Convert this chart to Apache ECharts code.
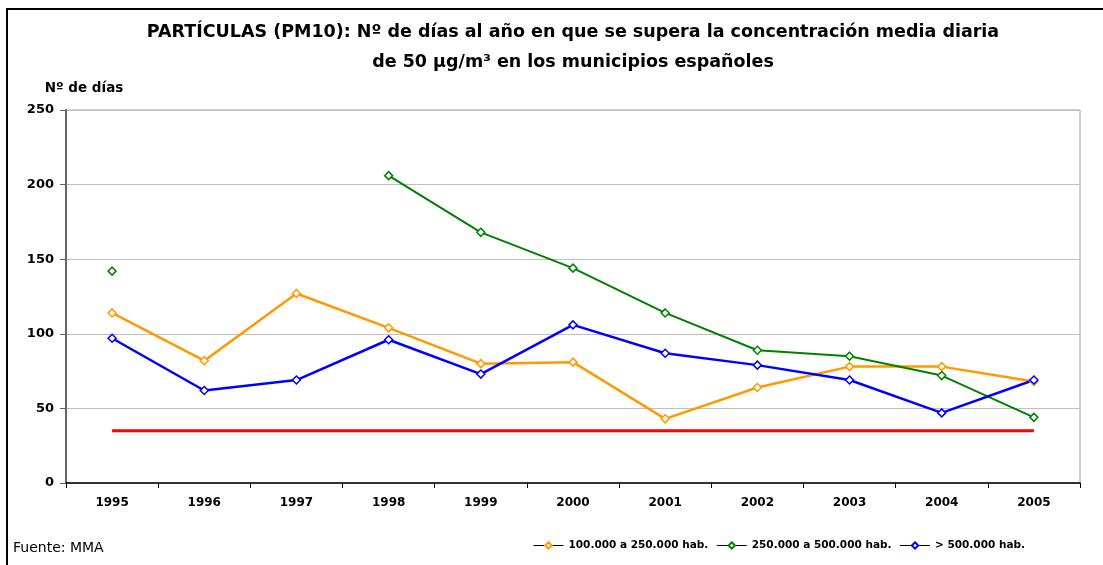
<!DOCTYPE html>
<html>
<head>
<meta charset="utf-8">
<script src="https://cdn.jsdelivr.net/npm/echarts@6/dist/echarts.min.js"></script>
<style>
  html, body { margin: 0; padding: 0; background: #fff; }
  #chart { width: 1103px; height: 565px; }
</style>
</head>
<body>
<div id="chart"></div>
<script>
// años
var years = ['1995', '1996', '1997', '1998', '1999', '2000', '2001', '2002', '2003', '2004', '2005'];
// nº de días por tamaño de municipio
var pob100a250 = [114, 82, 127, 104, 80, 81, 43, 64, 78, 78, 68];
var pob250a500 = [142, '-', '-', 206, 168, 144, 114, 89, 85, 72, 44];
var pobMas500 = [97, 62, 69, 96, 73, 106, 87, 79, 69, 47, 69];
// límite de 35 días
var limite = [35, 35, 35, 35, 35, 35, 35, 35, 35, 35, 35];
var yTicks = [0, 50, 100, 150, 200, 250];

var seriesNames = ['100.000 a 250.000 hab.', '250.000 a 500.000 hab.', '> 500.000 hab.'];
var FONT = '"DejaVu Sans", Arial, sans-serif';

var chart = echarts.init(document.getElementById('chart'));

function lineSerie(name, data, color, width) {
  return {
    name: name,
    type: 'line',
    data: data,
    symbol: 'diamond',
    symbolSize: 8,
    showAllSymbol: true,
    connectNulls: false,
    lineStyle: { color: color, width: width },
    itemStyle: { color: '#fff', borderColor: color, borderWidth: 1.5 },
    emphasis: { disabled: true },
    z: 3
  };
}

var option = {
  animation: false,
  backgroundColor: '#fff',
  graphic: [{
    type: 'rect',
    shape: { x: 7, y: 9, width: 1200, height: 700 },
    style: { fill: 'none', stroke: '#000', lineWidth: 2 },
    silent: true
  }, {
    type: 'text',
    left: 13,
    top: 541,
    style: { text: 'Fuente: MMA', font: '14px ' + FONT, fill: '#000' }
  }],
  title: {
    text: 'PARTÍCULAS (PM10): Nº de días al año en que se supera la concentración media diaria\nde 50 µg/m³ en los municipios españoles',
    left: 568,
    textAlign: 'center',
    top: 12,
    textStyle: {
      fontFamily: FONT,
      fontSize: 17.5,
      fontWeight: 'bold',
      lineHeight: 30,
      color: '#000'
    }
  },
  legend: {
    data: seriesNames,
    right: 73,
    top: 535,
    itemWidth: 30,
    itemHeight: 8,
    itemGap: 8,
    lineStyle: { color: '#000', width: 1 },
    textStyle: { fontFamily: FONT, fontSize: 10.5, fontWeight: 'bold', color: '#000' }
  },
  grid: {
    left: 66,
    right: 23,
    top: 110,
    bottom: 82,
    show: true,
    borderColor: '#a0a0a0',
    borderWidth: 1
  },
  xAxis: {
    type: 'category',
    data: years,
    boundaryGap: true,
    axisLine: { lineStyle: { color: '#000', width: 1.5 } },
    axisTick: { show: true, alignWithLabel: false, length: 5, lineStyle: { color: '#000' } },
    axisLabel: { fontFamily: FONT, fontSize: 12, fontWeight: 'bold', color: '#000', margin: 14 }
  },
  yAxis: {
    type: 'value',
    min: 0,
    max: 250,
    interval: 50,
    name: 'Nº de días',
    nameLocation: 'end',
    nameGap: 15,
    nameTextStyle: { fontFamily: FONT, fontSize: 13.5, fontWeight: 'bold', color: '#000', align: 'center', padding: [0, 0, 0, 36] },
    axisLine: { show: true, lineStyle: { color: '#666', width: 2 } },
    axisTick: { show: true, length: 6, lineStyle: { color: '#666' } },
    axisLabel: {
      fontFamily: FONT, fontSize: 13, fontWeight: 'bold', color: '#000', margin: 12,
      formatter: function (v) { return yTicks.indexOf(v) >= 0 ? String(v) : ''; }
    },
    splitLine: { lineStyle: { color: '#c0c0c0', width: 1 } }
  },
  series: [
    lineSerie(seriesNames[0], pob100a250, '#FF9900', 2.5),
    lineSerie(seriesNames[1], pob250a500, '#008000', 2),
    lineSerie(seriesNames[2], pobMas500, '#0000FF', 2.5),
    {
      name: 'límite',
      type: 'line',
      data: limite,
      symbol: 'none',
      lineStyle: { color: '#FF0000', width: 3 },
      emphasis: { disabled: true },
      z: 2
    }
  ]
};

chart.setOption(option);
</script>
</body>
</html>
